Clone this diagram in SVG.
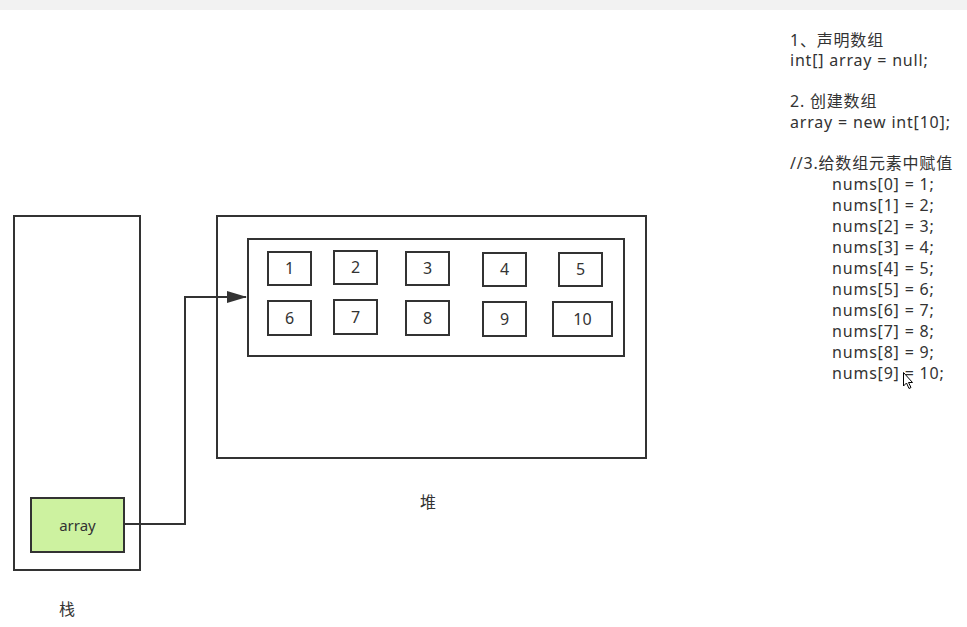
<svg xmlns="http://www.w3.org/2000/svg" width="967" height="627" viewBox="0 0 967 627">
<style>
.b{fill:#fff;stroke:#333;stroke-width:2}
.n{font-family:"Noto Sans","Noto Sans CJK SC",sans-serif;font-size:16px;fill:#333;text-anchor:middle}
.t{font-family:"Noto Sans","Noto Sans CJK SC",sans-serif;font-size:16px;fill:#333;letter-spacing:0.8px}
.c{fill:none;stroke:#333;stroke-width:2}
</style>
<defs><marker id="ah" markerWidth="20" markerHeight="14" refX="19" refY="7" orient="auto" markerUnits="userSpaceOnUse"><path d="M0,1 L20,7 L0,13 Z" fill="#333"/></marker></defs>
<rect x="0" y="0" width="967" height="627" fill="#fff"/>
<rect x="0" y="0" width="967" height="10" fill="#f2f2f2"/>
<g id="stack"><rect class="b" x="14" y="216" width="126" height="354"/></g>
<g id="heap"><rect class="b" x="217" y="216" width="429" height="242"/></g>
<g id="arrayObj"><rect class="b" x="248" y="239" width="376" height="117"/></g>
<g id="e1"><rect class="b" x="268" y="252" width="43" height="33"/><text class="n" x="289.5" y="274">1</text></g>
<g id="e2"><rect class="b" x="334" y="251" width="43" height="33"/><text class="n" x="355.5" y="273">2</text></g>
<g id="e3"><rect class="b" x="406" y="252" width="43" height="33"/><text class="n" x="427.5" y="274">3</text></g>
<g id="e4"><rect class="b" x="483" y="253" width="43" height="33"/><text class="n" x="504.5" y="275">4</text></g>
<g id="e5"><rect class="b" x="559" y="253" width="43" height="33"/><text class="n" x="580.5" y="275">5</text></g>
<g id="e6"><rect class="b" x="268" y="301" width="43" height="34"/><text class="n" x="289.5" y="324">6</text></g>
<g id="e7"><rect class="b" x="334" y="300" width="43" height="34"/><text class="n" x="355.5" y="323">7</text></g>
<g id="e8"><rect class="b" x="406" y="301" width="43" height="34"/><text class="n" x="427.5" y="324">8</text></g>
<g id="e9"><rect class="b" x="483" y="302" width="43" height="34"/><text class="n" x="504.5" y="325">9</text></g>
<g id="e10"><rect class="b" x="553" y="302" width="59" height="34"/><text class="n" x="582.5" y="325">10</text></g>
<g id="arrayVar"><rect x="31" y="498" width="93" height="54" fill="#cdf2a0" stroke="#333" stroke-width="2"/><text class="n" x="77.5" y="531" style="font-size:15px">array</text></g>
<g id="connectors"><path class="c" d="M124,524 H185 V297 H246" marker-end="url(#ah)"/></g>
<g id="labels">
<text class="n" x="67" y="615">栈</text>
<text class="n" x="428" y="508">堆</text>
</g>
<g id="code" class="t">
<text x="790" y="46">1、声明数组</text>
<text x="790" y="66">int[] array = null;</text>
<text x="790" y="107">2. 创建数组</text>
<text x="790" y="128">array = new int[10];</text>
<text x="790" y="169">//3.给数组元素中赋值</text>
<text x="832" y="190">nums[0] = 1;</text>
<text x="832" y="211">nums[1] = 2;</text>
<text x="832" y="232">nums[2] = 3;</text>
<text x="832" y="253">nums[3] = 4;</text>
<text x="832" y="274">nums[4] = 5;</text>
<text x="832" y="295">nums[5] = 6;</text>
<text x="832" y="316">nums[6] = 7;</text>
<text x="832" y="337">nums[7] = 8;</text>
<text x="832" y="358">nums[8] = 9;</text>
<text x="832" y="379">nums[9] = 10;</text>
</g>
<path d="M903.5,372.5 V386 L906.5,383 L909,388.5 L911,387.5 L908.5,382.5 L912.5,382.5 Z" fill="#fff" stroke="#000" stroke-width="1"/>
</svg>
